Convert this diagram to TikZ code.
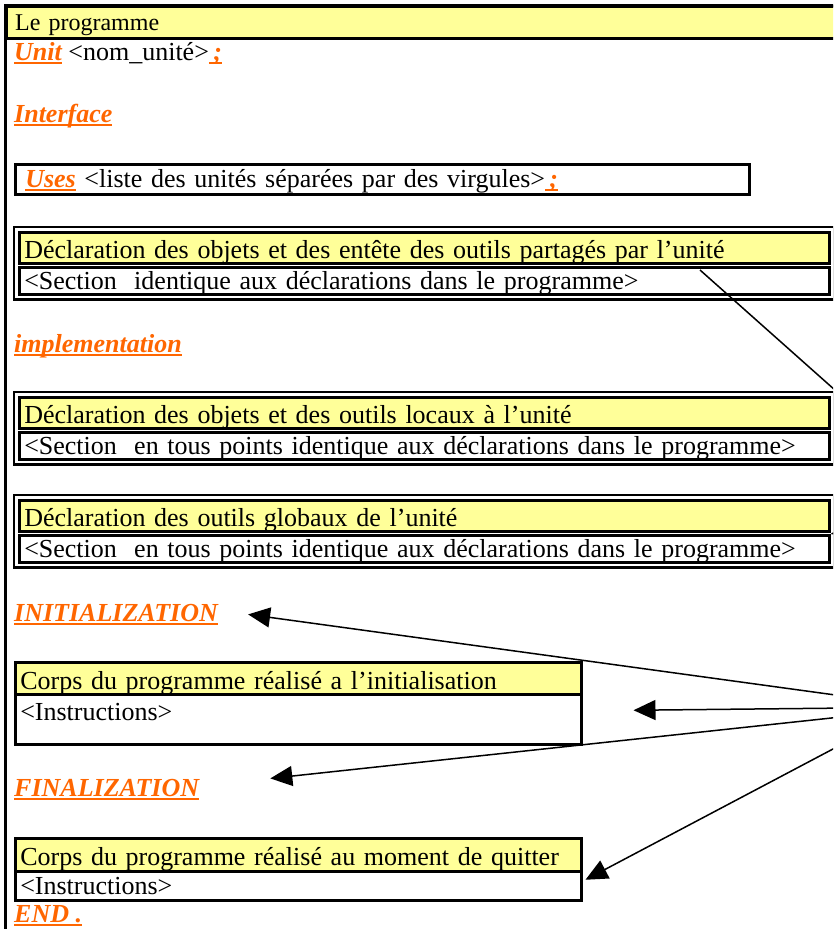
\documentclass[tikz,border=0pt]{standalone}
\usepackage{fontspec}
\setmainfont{Liberation Serif}
\usetikzlibrary{arrows.meta,fit}
\definecolor{kworange}{HTML}{FF6600}
\definecolor{rowyellow}{HTML}{FFFF99}
% mot cle souligne
\newcommand\kw[1]{{\color{kworange}\bfseries\itshape\setbox0\hbox{#1}\rlap{\rule[-4pt]{\wd0}{2.5pt}}\box0}}
\tikzset{
  txt/.style={anchor=base west, inner sep=0pt},
  cell/.style={draw, line width=2.5pt, anchor=north west, inner xsep=5pt, inner ysep=0pt, align=left},
  hcell/.style={cell, fill=rowyellow},
  frame/.style={draw, line width=2.5pt, inner sep=4pt},
  big/.style={-{Triangle[length=22pt,width=20pt]}, line width=1.5pt}
}
\begin{document}
\begin{tikzpicture}[x=1pt, y=-1pt, font=\fontsize{26}{30}\selectfont]
  \useasboundingbox (0,0) rectangle (833,929);
  \clip (0,0) rectangle (833,929);
  \node[hcell, text width=850pt, text height=24pt, text depth=8pt, inner xsep=9pt, font=\fontsize{24}{28}\selectfont] (head) at (5,5) {Le programme};
  \draw[line width=3pt] (5,5) rectangle (900,1000);

  \node[txt] (unit) at (14,60) {\kw{Unit} <nom\_unité>\kw{\,;}};
  \node[txt] (intf) at (14,122) {\kw{Interface}};
  \node[cell, text width=714pt, text height=23pt, text depth=7pt, inner xsep=10pt] (uses) at (14,163) {\kw{Uses} <liste des unités séparées par des virgules>\kw{\,;}};

  \node[hcell, text width=800pt, text height=26pt, text depth=5pt] (decl1) at (18,231) {Déclaration des objets et des entête des outils partagés par l’unité};
  \node[cell, text width=800pt, text height=22pt, text depth=5pt] (sect1) at (18,266) {<Section\ \ identique aux déclarations dans le programme>};
  \node[frame, fit=(decl1)(sect1)] (box1) {};

  \node[txt] (impl) at (14,352) {\kw{implementation}};

  \node[hcell, text width=800pt, text height=26pt, text depth=5pt] (decl2) at (18,396) {Déclaration des objets et des outils locaux à l’unité};
  \node[cell, text width=800pt, text height=22pt, text depth=5pt] (sect2) at (18,431) {<Section\ \ en tous points identique aux déclarations dans le programme>};
  \node[frame, fit=(decl2)(sect2)] (box2) {};

  \node[hcell, text width=800pt, text height=26pt, text depth=5pt] (decl3) at (18,499) {Déclaration des outils globaux de l’unité};
  \node[cell, text width=800pt, text height=22pt, text depth=5pt] (sect3) at (18,534) {<Section\ \ en tous points identique aux déclarations dans le programme>};
  \node[frame, fit=(decl3)(sect3)] (box3) {};

  \node[txt] (init) at (14,621) {\kw{INITIALIZATION}};
  \node[hcell, text width=556pt, text height=27pt, text depth=5pt] (corps1) at (14,661) {Corps du programme réalisé a l’initialisation};
  \node[cell, text width=556pt, text height=26pt, text depth=24pt] (instr1) at (14,693) {<Instructions>};

  \node[txt] (fin) at (14,796) {\kw{FINALIZATION}};
  \node[hcell, text width=556pt, text height=27pt, text depth=6pt] (corps2) at (14,837) {Corps du programme réalisé au moment de quitter};
  \node[cell, text width=556pt, text height=23pt, text depth=6pt] (instr2) at (14,870) {<Instructions>};

  \node[txt] (end) at (14,922) {\kw{END .}};

  % fleches venant de la droite
  \coordinate (d1) at (700,270);
  \coordinate (src1) at (850,697);
  \coordinate (src2) at (850,708);
  \coordinate (src3) at (850,716);
  \coordinate (src4) at (850,740);
  \coordinate (src5) at (860,528);
  \draw[line width=1.5pt] (d1) -- (box2.north east);
  \draw[-{Triangle[length=10pt,width=8pt]}, line width=1pt] (src5) -- (sect3.north east);
  \draw[big] (src1) -- ([xshift=30pt]init.east);
  \draw[big] (src2) -- ([xshift=51pt, yshift=9pt]instr1.east);
  \draw[big] (src3) -- ([xshift=71pt, yshift=11pt]fin.east);
  \draw[big] (src4) -- ([xshift=3pt, yshift=6pt]instr2.east);
\end{tikzpicture}
\end{document}
